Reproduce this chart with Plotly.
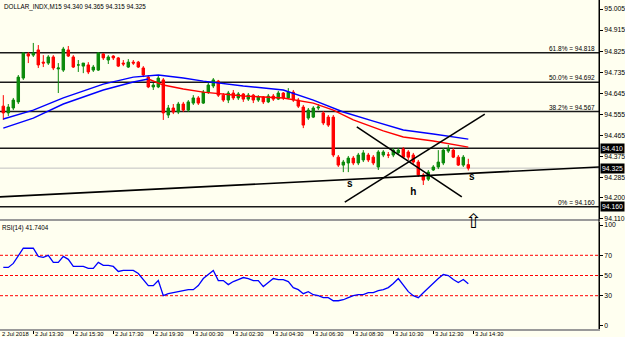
import plotly.graph_objects as go

title_text = "DOLLAR_INDX,M15 94.340 94.365 94.315 94.325"

opens = [94.590, 94.561, 94.582, 94.608, 94.710, 94.813, 94.808, 94.830, 94.778, 94.774,
         94.800, 94.749, 94.744, 94.830, 94.800, 94.766, 94.761, 94.766, 94.744, 94.744,
         94.813, 94.787, 94.804, 94.796, 94.774, 94.757, 94.778, 94.778, 94.753, 94.714,
         94.672, 94.672, 94.702, 94.552, 94.582, 94.565, 94.599, 94.573, 94.603, 94.625,
         94.603, 94.650, 94.676, 94.697, 94.637, 94.616, 94.646, 94.625, 94.642, 94.620,
         94.637, 94.616, 94.629, 94.608, 94.633, 94.620, 94.646, 94.625, 94.650, 94.616,
         94.586, 94.539, 94.543, 94.582, 94.561, 94.543, 94.543, 94.372, 94.338, 94.347,
         94.368, 94.347, 94.360, 94.381, 94.372, 94.330, 94.381, 94.381, 94.381, 94.390,
         94.407, 94.394, 94.381, 94.351, 94.296, 94.278, 94.317, 94.330, 94.347, 94.398,
         94.402, 94.372, 94.338, 94.340]
highs = [94.637, 94.599, 94.625, 94.723, 94.821, 94.821, 94.860, 94.851, 94.808, 94.808,
         94.808, 94.774, 94.843, 94.847, 94.808, 94.787, 94.774, 94.778, 94.766, 94.821,
         94.817, 94.808, 94.808, 94.800, 94.787, 94.791, 94.787, 94.783, 94.761, 94.723,
         94.689, 94.719, 94.710, 94.595, 94.599, 94.608, 94.608, 94.616, 94.637, 94.633,
         94.659, 94.689, 94.710, 94.702, 94.646, 94.655, 94.659, 94.650, 94.646, 94.646,
         94.642, 94.637, 94.633, 94.642, 94.642, 94.655, 94.650, 94.667, 94.659, 94.625,
         94.595, 94.582, 94.590, 94.599, 94.569, 94.552, 94.552, 94.381, 94.360, 94.377,
         94.377, 94.390, 94.402, 94.390, 94.381, 94.402, 94.402, 94.394, 94.411, 94.411,
         94.415, 94.402, 94.390, 94.360, 94.304, 94.317, 94.338, 94.402, 94.411, 94.424,
         94.411, 94.381, 94.381, 94.365]
lows = [94.531, 94.548, 94.573, 94.599, 94.702, 94.774, 94.800, 94.753, 94.757, 94.766,
        94.744, 94.646, 94.736, 94.800, 94.753, 94.736, 94.731, 94.727, 94.736, 94.740,
        94.787, 94.770, 94.787, 94.757, 94.761, 94.753, 94.766, 94.753, 94.714, 94.667,
        94.659, 94.667, 94.531, 94.539, 94.556, 94.556, 94.565, 94.565, 94.595, 94.595,
        94.599, 94.642, 94.667, 94.629, 94.608, 94.603, 94.616, 94.616, 94.608, 94.612,
        94.603, 94.608, 94.599, 94.603, 94.612, 94.616, 94.616, 94.620, 94.608, 94.582,
        94.496, 94.531, 94.539, 94.573, 94.509, 94.501, 94.372, 94.330, 94.308, 94.308,
        94.338, 94.338, 94.351, 94.351, 94.338, 94.317, 94.372, 94.368, 94.372, 94.381,
        94.368, 94.360, 94.343, 94.287, 94.253, 94.270, 94.313, 94.321, 94.338, 94.390,
        94.368, 94.334, 94.330, 94.315]
closes = [94.561, 94.586, 94.616, 94.714, 94.817, 94.804, 94.817, 94.766, 94.774, 94.800,
          94.753, 94.753, 94.834, 94.804, 94.757, 94.766, 94.774, 94.736, 94.757, 94.817,
          94.796, 94.800, 94.796, 94.761, 94.770, 94.778, 94.774, 94.757, 94.723, 94.672,
          94.680, 94.710, 94.561, 94.582, 94.565, 94.599, 94.573, 94.608, 94.625, 94.603,
          94.650, 94.680, 94.702, 94.637, 94.616, 94.646, 94.625, 94.642, 94.620, 94.637,
          94.616, 94.629, 94.608, 94.633, 94.620, 94.646, 94.625, 94.650, 94.616, 94.590,
          94.509, 94.573, 94.582, 94.586, 94.518, 94.509, 94.381, 94.338, 94.351, 94.368,
          94.347, 94.381, 94.390, 94.360, 94.347, 94.394, 94.394, 94.381, 94.402, 94.402,
          94.372, 94.372, 94.351, 94.296, 94.274, 94.308, 94.330, 94.351, 94.402, 94.407,
          94.372, 94.338, 94.372, 94.325]

rsi = [58, 58, 62, 70, 77, 77, 77, 69, 68, 70,
       63, 63, 69, 66, 59, 59, 59, 57, 57, 63,
       60, 60, 59, 54, 55, 55, 55, 52, 46, 40,
       40, 45, 30, 32, 33, 34, 35, 36, 36, 40,
       47, 51, 55, 45, 45, 41, 44, 46, 48, 47,
       45, 45, 39, 43, 47, 46, 46, 44, 38, 36,
       32, 34, 31, 30, 28, 28, 25, 25, 26, 28,
       30, 31, 31, 33, 33, 35, 36, 38, 42, 47,
       40, 34, 30, 28, 33, 38, 42, 47, 51, 50,
       46, 43, 46, 41.7404]
rsi_label = "RSI(14) 41.7404"

bars = list(range(len(closes)))

ma_slow_bars = [0, 6, 12, 20, 26, 31, 36, 40, 48, 56, 62, 68, 74, 80, 86, 93]
ma_slow = [94.535, 94.573, 94.625, 94.684, 94.714, 94.723, 94.710, 94.697, 94.676,
           94.659, 94.616, 94.565, 94.526, 94.488, 94.471, 94.449]
ma_fast_blue_bars = [0, 6, 12, 20, 26, 29]
ma_fast_blue = [94.496, 94.539, 94.599, 94.659, 94.693, 94.706]
ma_fast_red_bars = [29, 32, 36, 40, 48, 56, 62, 66, 70, 76, 80, 86, 93]
ma_fast_red = [94.706, 94.680, 94.663, 94.650, 94.633, 94.625, 94.603, 94.573, 94.531,
               94.484, 94.458, 94.441, 94.415]

fib_levels = [94.818, 94.692, 94.567, 94.160]
fib_labels = ["61.8% = 94.818", "50.0% = 94.692", "38.2% = 94.567", "0% = 94.160"]
support_level = 94.410
current_price = 94.325
marked_prices = [94.410, 94.325, 94.160]
price_ticks = [95.005, 94.915, 94.825, 94.735, 94.645, 94.555, 94.465, 94.375, 94.285, 94.200, 94.110]
rsi_levels = [70, 50, 30]
rsi_ticks = [100, 70, 50, 30, 0]

time_tick_bars = [-0.6, 6, 14, 22, 30, 38, 46, 54, 62, 70, 78, 86, 94]
time_tick_labels = ["2 Jul 2018", "2 Jul 13:30", "2 Jul 15:30", "2 Jul 17:30", "2 Jul 19:30",
                    "3 Jul 00:30", "3 Jul 02:30", "3 Jul 04:30", "3 Jul 06:30", "3 Jul 08:30",
                    "3 Jul 10:30", "3 Jul 12:30", "3 Jul 14:30"]

neck_bars = [-0.66, 119.14]
neck_prices = [94.202, 94.330]
cross1_bars = [68.3, 96.3]
cross1_prices = [94.180, 94.556]
cross2_bars = [70.7, 91.7]
cross2_prices = [94.501, 94.202]
pattern_text = ["s", "h", "s"]
pattern_bars = [69.3, 82.0, 93.7]
pattern_prices = [94.257, 94.223, 94.287]
arrow_bar = 94

X_RANGE = [-0.66, 119.14]
Y_RANGE = [94.1076, 95.0435]
RSI_RANGE = [-2.97, 102.97]
MAIN_DOMAIN = [0.3343, 1.0]
RSI_DOMAIN = [0.0, 0.3252]

FONT = "Liberation Sans"
BG = "#fffff0"
GREEN = "#0b8a0b"
RED = "#ff0000"

fig = go.Figure()

fig.add_trace(go.Candlestick(
    x=bars, open=opens, high=highs, low=lows, close=closes,
    increasing=dict(line=dict(color=GREEN, width=1), fillcolor=GREEN),
    decreasing=dict(line=dict(color=RED, width=1), fillcolor=RED),
    whiskerwidth=0, xaxis="x", yaxis="y", showlegend=False, hoverinfo="skip"))

fig.add_trace(go.Scatter(x=ma_slow_bars, y=ma_slow, mode="lines",
                         line=dict(color="#0000ff", width=1.4), xaxis="x", yaxis="y",
                         showlegend=False, hoverinfo="skip"))
fig.add_trace(go.Scatter(x=ma_fast_blue_bars, y=ma_fast_blue, mode="lines",
                         line=dict(color="#0000ff", width=1.4), xaxis="x", yaxis="y",
                         showlegend=False, hoverinfo="skip"))
fig.add_trace(go.Scatter(x=ma_fast_red_bars, y=ma_fast_red, mode="lines",
                         line=dict(color=RED, width=1.4), xaxis="x", yaxis="y",
                         showlegend=False, hoverinfo="skip"))

for bx, py in [(neck_bars, neck_prices), (cross1_bars, cross1_prices), (cross2_bars, cross2_prices)]:
    fig.add_trace(go.Scatter(x=bx, y=py, mode="lines", line=dict(color="#000000", width=1.6),
                             xaxis="x", yaxis="y", showlegend=False, hoverinfo="skip"))

fig.add_trace(go.Scatter(x=pattern_bars, y=pattern_prices, mode="text", text=pattern_text,
                         textfont=dict(family=FONT, size=10, color="#000000"),
                         texttemplate="<b>%{text}</b>",
                         xaxis="x", yaxis="y", showlegend=False, hoverinfo="skip"))

fig.add_trace(go.Scatter(x=bars, y=rsi, mode="lines", line=dict(color="#0000ff", width=1.3),
                         xaxis="x2", yaxis="y2", showlegend=False, hoverinfo="skip"))

shapes = []
for lv in fib_levels + [support_level]:
    shapes.append(dict(type="line", xref="paper", x0=0, x1=1, yref="y", y0=lv, y1=lv,
                       line=dict(color="#1a1a1a", width=1.6), layer="below"))
shapes.append(dict(type="line", xref="paper", x0=0, x1=1, yref="y", y0=current_price,
                   y1=current_price, line=dict(color="#c0c0c0", width=1), layer="below"))
for lv in rsi_levels:
    shapes.append(dict(type="line", xref="paper", x0=0, x1=1, yref="y2", y0=lv, y1=lv,
                       line=dict(color=RED, width=1, dash="3px,2px"), layer="below"))
shapes.append(dict(type="line", xref="paper", x0=1, x1=1, yref="paper", y0=0, y1=1,
                   line=dict(color="#000000", width=1)))

annotations = []
annotations.append(dict(text=title_text, xref="paper", yref="paper", x=0, y=1, xanchor="left",
                        yanchor="top", xshift=2, yshift=-1, showarrow=False,
                        font=dict(family=FONT, size=6.3, color="#000000")))
annotations.append(dict(text=rsi_label, xref="paper", yref="paper", x=0, y=RSI_DOMAIN[1],
                        xanchor="left", yanchor="top", xshift=0, yshift=0, showarrow=False,
                        font=dict(family=FONT, size=6.3, color="#000000")))
for lv, lab in zip(fib_levels, fib_labels):
    annotations.append(dict(text=lab, xref="paper", yref="y", x=1, y=lv, xanchor="right",
                            yanchor="bottom", xshift=-2, yshift=-1, showarrow=False,
                            font=dict(family=FONT, size=6.5, color="#000000")))
for mp in marked_prices:
    annotations.append(dict(text="%.3f" % mp, xref="paper", yref="y", x=1, y=mp, xanchor="left",
                            yanchor="middle", xshift=1, showarrow=False, bgcolor="#000000",
                            borderpad=1, font=dict(family=FONT, size=6.8, color="#ffffff")))
for tb, tl in zip(time_tick_bars, time_tick_labels):
    annotations.append(dict(text=tl, xref="x2", yref="paper", x=tb, y=0, xanchor="left",
                            yanchor="top", xshift=0, yshift=0, showarrow=False,
                            font=dict(family=FONT, size=5.8, color="#000000")))
annotations.append(dict(text="\u21e7", xref="x", yref="paper", x=arrow_bar,
                        y=(MAIN_DOMAIN[0] + RSI_DOMAIN[1]) / 2, xanchor="center",
                        yanchor="middle", showarrow=False,
                        font=dict(family="DejaVu Sans", size=20, color="#000000")))

axis_font = dict(family=FONT, size=6.8, color="#000000")

fig.update_layout(
    width=625, height=337,
    margin=dict(l=0, r=26, t=0, b=8),
    paper_bgcolor=BG, plot_bgcolor=BG,
    showlegend=False,
    xaxis=dict(domain=[0, 1], range=X_RANGE, anchor="y", showticklabels=False, showgrid=False,
               zeroline=False, showline=True, linecolor="#9a9a9a", linewidth=2,
               rangeslider=dict(visible=False), fixedrange=True),
    xaxis2=dict(domain=[0, 1], range=X_RANGE, anchor="y2", showticklabels=False, showgrid=False,
                zeroline=False, showline=True, linecolor="#9a9a9a", linewidth=2,
                ticks="outside", ticklen=3, tickcolor="#000000",
                tickvals=time_tick_bars[1:], fixedrange=True),
    yaxis=dict(domain=MAIN_DOMAIN, range=Y_RANGE, side="right", showgrid=False, zeroline=False,
               tickvals=price_ticks, ticktext=["%.3f" % v for v in price_ticks],
               ticks="outside", ticklen=3, tickcolor="#000000", tickfont=axis_font,
               showline=True, linecolor="#000000", linewidth=1, fixedrange=True),
    yaxis2=dict(domain=RSI_DOMAIN, range=RSI_RANGE, side="right", showgrid=False, zeroline=False,
                tickvals=rsi_ticks, ticktext=[str(v) for v in rsi_ticks],
                ticks="outside", ticklen=3, tickcolor="#000000", tickfont=axis_font,
                showline=True, linecolor="#000000", linewidth=1, fixedrange=True),
    shapes=shapes,
    annotations=annotations,
)

fig.write_html("out.html")
